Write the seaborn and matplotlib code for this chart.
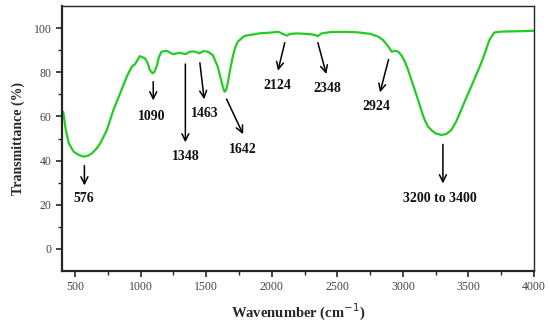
import matplotlib
matplotlib.use("Agg")
import matplotlib.pyplot as plt
import numpy as np
import pandas as pd
import seaborn as sns

# FTIR spectrum
wavenumber = [400, 410, 427, 452, 489, 530, 565, 600, 629, 660, 692, 742, 792,
              843, 894, 932, 957, 995, 1033, 1055, 1070, 1091, 1105, 1121, 1140,
              1159, 1197, 1247, 1298, 1343, 1374, 1410, 1449, 1480, 1512, 1550,
              1588, 1626, 1640, 1652, 1664, 1682, 1702, 1720, 1740, 1790, 1904,
              2000, 2050, 2090, 2115, 2140, 2200, 2300, 2335, 2350, 2380, 2450,
              2550, 2650, 2750, 2813, 2850, 2889, 2914, 2940, 2964, 2990, 3015,
              3040, 3065, 3090, 3116, 3140, 3166, 3190, 3217, 3250, 3293, 3330,
              3368, 3405, 3444, 3480, 3520, 3560, 3596, 3630, 3659, 3697, 3750,
              3823, 3900, 4000]
transmittance = [62, 62, 54.6, 47.8, 44, 42.5, 41.8, 42.2, 43.3, 45.2, 47.8, 53.8, 62.9,
                 70.4, 78, 82.5, 83.7, 87.3, 86.3, 84, 81, 79.5, 80.2, 82.5, 87,
                 89.3, 89.7, 88.2, 88.8, 88.2, 89.3, 89.4, 88.6, 89.6, 89.3, 87.8,
                 82.5, 73.5, 71.2, 72, 75, 81, 87, 91, 93.8, 96.4, 97.6,
                 98, 98.3, 97.2, 96.6, 97.4, 97.6, 97.2, 96.8, 96.3, 97.6, 98.2,
                 98.3, 98.1, 97.4, 96.1, 94.5, 91.6, 89.3, 89.7, 89.3, 87.6, 84.8,
                 81, 76.5, 72, 67.4, 62.8, 58.4, 55.5, 53.8, 52.3, 51.6, 52,
                 53.8, 57.5, 62.9, 68, 73.4, 79, 84, 89.5, 94.6, 98, 98.4,
                 98.5, 98.6, 98.8]

# peak labels: text, arrow tail, arrow head, label position
peak_labels = ["576", "1090", "1348", "1463", "1642", "2124", "2348", "2924",
               "3200 to 3400"]
arrow_tail = [(571, 39), (1096, 77), (1341, 85), (1449, 85.5), (1646, 69),
              (2104, 94.6), (2346, 94.6), (2896, 87), (3305, 48.6)]
arrow_head = [(571, 27.5), (1096, 66), (1341, 47), (1487, 66.5), (1790, 50.8),
              (2042, 79.5), (2421, 78), (2820, 69.7), (3305, 28.4)]
label_pos = [(568, 23), (1083, 60), (1348, 41.8), (1487, 61.4), (1777, 44.8),
             (2040, 74.2), (2421, 72.7), (2800, 64.4), (3280, 23)]

df = pd.DataFrame({"Wavenumber": wavenumber, "Transmittance": transmittance})

sns.set_style("ticks")
plt.rcParams["font.family"] = ["Liberation Serif", "DejaVu Serif"]

fig = plt.figure(figsize=(5.5, 3.26), dpi=100)
ax = fig.add_axes([0.1127, 0.1687, 0.8583, 0.8129])

sns.lineplot(data=df, x="Wavenumber", y="Transmittance", color="#22cc22",
             linewidth=1.6, sort=False, ax=ax)

for txt, tail, head, pos in zip(peak_labels, arrow_tail, arrow_head, label_pos):
    ax.annotate("", xy=head, xytext=tail,
                arrowprops=dict(arrowstyle="->,head_length=0.5,head_width=0.25",
                                color="black", lw=1.1))
    ax.text(pos[0], pos[1], txt, ha="center", va="center", fontsize=10,
            fontweight="bold", color="#111111")

ax.set_xlim(400, 4000)
ax.set_ylim(-10, 110)
ax.set_xticks([500, 1000, 1500, 2000, 2500, 3000, 3500, 4000])
ax.set_xticks(np.arange(750, 4000, 500), minor=True)
ax.set_yticks([0, 20, 40, 60, 80, 100])
ax.set_yticks(np.arange(-10, 110, 20)[1:], minor=True)
ax.tick_params(axis="both", which="major", direction="out", length=4,
               width=1.2, labelsize=8.5, labelcolor="#444444")
ax.tick_params(axis="both", which="minor", direction="out", length=3, width=1)

ax.set_xlabel("Wavenumber (cm$^{-1}$)", fontsize=10.5, fontweight="bold",
              labelpad=6)
ax.set_ylabel("Transmittance (%)", fontsize=10, fontweight="bold", labelpad=6)

for side in ["left", "bottom"]:
    ax.spines[side].set_linewidth(1.6)
for side in ["top", "right"]:
    ax.spines[side].set_visible(True)
    ax.spines[side].set_linewidth(1.0)

fig.savefig("out.png", dpi=100)
